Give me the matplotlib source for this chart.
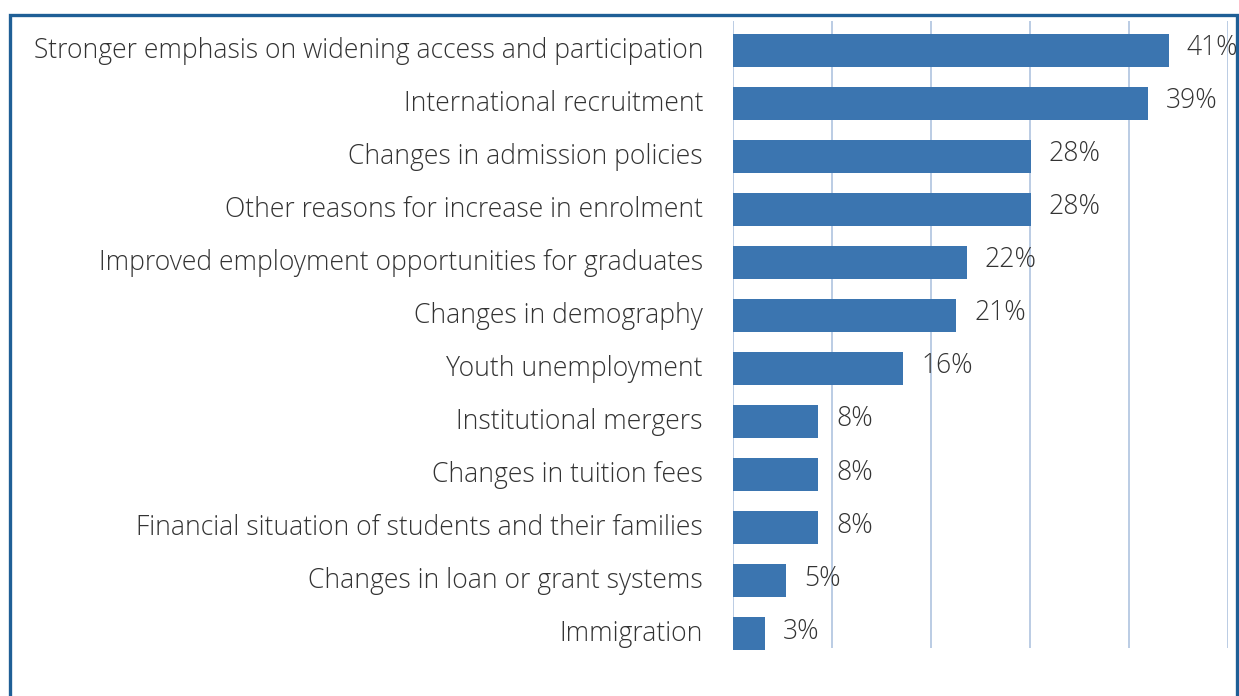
import matplotlib
matplotlib.use("Agg")
import matplotlib.pyplot as plt
from matplotlib.patches import Rectangle
from matplotlib.transforms import ScaledTranslation

categories = [
    "Stronger emphasis on widening access and participation",
    "International recruitment",
    "Changes in admission policies",
    "Other reasons for increase in enrolment",
    "Improved employment opportunities for graduates",
    "Changes in demography",
    "Youth unemployment",
    "Institutional mergers",
    "Changes in tuition fees",
    "Financial situation of students and their families",
    "Changes in loan or grant systems",
    "Immigration",
]
values = [41, 39, 28, 28, 22, 21, 16, 8, 8, 8, 5, 3]
value_labels = ["41%", "39%", "28%", "28%", "22%", "21%", "16%", "8%", "8%", "8%", "5%", "3%"]

W, H = 1239, 696
fig = plt.figure(figsize=(W / 100, H / 100), dpi=100)
plt.rcParams["font.family"] = ["Open Sans", "DejaVu Sans"]
plt.rcParams["font.weight"] = 300

bar_color = "#3b75b0"
grid_color = "#a8bedc"
text_color = "#333333"
frame_color = "#1f5f96"
fs = 19.1

# outer frame
fig.patches.append(Rectangle((10 / W, -0.05), 1227 / W, 1 - 15 / H + 0.05,
                             transform=fig.transFigure, fill=False,
                             edgecolor=frame_color, linewidth=2.4))

ax = fig.add_axes([733 / W, 1 - 648 / H, (1228 - 733) / W, (648 - 21) / H])
n = len(categories)
y = list(range(n))
ax.barh(y, values, height=0.62, color=bar_color, zorder=2, clip_on=False)

step = 41 / 436 * 99  # grid spacing in value units
xmax = step * 5
ax.set_xlim(0, xmax)
ax.set_ylim(n - 1 + 0.27, -0.55)
for i in range(6):
    ax.axvline(i * step, color=grid_color, linewidth=1.1, zorder=1)

for spine in ax.spines.values():
    spine.set_visible(False)
ax.set_xticks([])
ax.set_yticks(y)
ax.set_yticklabels(categories, fontsize=fs, color=text_color, fontweight=300)
ax.tick_params(axis="y", length=0, pad=21.6)

lift = ScaledTranslation(0, 3 / 100, fig.dpi_scale_trans)
for t in ax.get_yticklabels():
    t.set_transform(t.get_transform() + lift)

for yi, v, lab in zip(y, values, value_labels):
    ax.annotate(lab, (v, yi), xytext=(18, 2), textcoords="offset pixels",
                ha="left", va="center", fontsize=fs, color=text_color,
                fontweight=300, annotation_clip=False, zorder=3)

fig.savefig("out.png", dpi=100, facecolor="white")
